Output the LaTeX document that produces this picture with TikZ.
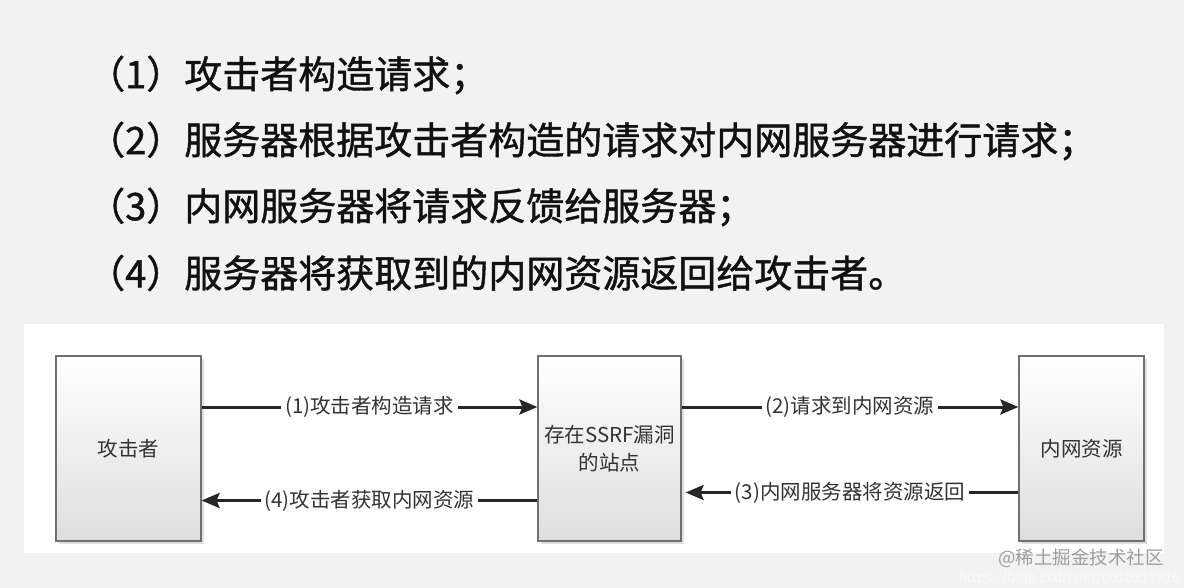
\documentclass[tikz,border=0pt]{standalone}
\usepackage{fontspec}
\setmainfont{Noto Sans CJK SC}
\newfontfamily\listfont[FakeBold=1.1]{Noto Sans CJK SC}
\usetikzlibrary{arrows.meta,shadows}
\definecolor{bggray}{HTML}{F2F2F2}
\definecolor{boxline}{HTML}{707070}
\definecolor{boxbot}{HTML}{DEDEDE}
\definecolor{linecol}{HTML}{262626}
\definecolor{labtext}{HTML}{333333}
\definecolor{listtext}{HTML}{111111}

\begin{document}
\begin{tikzpicture}[x=1bp, y=-1bp,
	box/.style={draw=boxline, line width=1.2bp, top color=white, bottom color=boxbot,
		minimum height=185bp, drop shadow={shadow xshift=3bp, shadow yshift=-3bp, opacity=0.25},
		font=\fontsize{20.5bp}{28bp}\selectfont, text=labtext, align=center},
	link/.style={draw=linecol, line width=3bp, -{Stealth[length=18bp, width=15bp, inset=3bp]}},
	lab/.style={fill=white, inner xsep=4bp, inner ysep=1bp, font=\fontsize{20.5bp}{24bp}\selectfont, text=labtext}]
		\useasboundingbox (0,0) rectangle (1184,588);
		\fill[bggray] (0,0) rectangle (1184,588);
		\fill[white] (24,324) rectangle (1164,553);
		% the four steps
		\foreach \i/\t in {1/攻击者构造请求；, 2/服务器根据攻击者构造的请求对内网服务器进行请求；,
			3/内网服务器将请求反馈给服务器；, 4/服务器将获取到的内网资源返回给攻击者。}{
		\node [anchor=west, inner sep=0pt, text=listtext, font=\listfont\fontsize{38bp}{44bp}\selectfont]
			(step\i) at (87, 9+66*\i) {（\i）\t};}
		% boxes
		\node[box, minimum width=145bp] (att) at (128.5,448.5) {攻击者};
		\node[box, minimum width=143bp] (site) at (609.5,448.5) {存在SSRF漏洞\\的站点};
		\node[box, minimum width=125bp] (intra) at (1081.5,448.5) {内网资源};
		% requests and answers
		\draw[link] ([yshift=41.5bp]att.east) -- node[lab]{(1)攻击者构造请求} ([yshift=41.5bp]site.west);
		\draw[link] ([yshift=41.5bp]site.east) -- node[lab]{(2)请求到内网资源} ([yshift=41.5bp]intra.west);
		\draw[link, shorten >=4bp] ([yshift=-44bp]intra.west) -- node[lab]{(3)内网服务器将资源返回} ([yshift=-44bp]site.east);
		\draw[link] ([yshift=-52bp]site.west) -- node[lab]{(4)攻击者获取内网资源} ([yshift=-52bp]att.east);
		% watermark
		\node [anchor=east, inner sep=0pt, text=white!96!gray, font=\fontsize{14bp}{16bp}\selectfont] (url) at (1180,579) {https://blog.csdn.net/u010317916};
		\node [anchor=east, inner sep=0pt, text=gray!75, font=\fontsize{18.5bp}{20bp}\selectfont] (mark) at (1164,558) {@稀土掘金技术社区};
\end{tikzpicture}
\end{document}
